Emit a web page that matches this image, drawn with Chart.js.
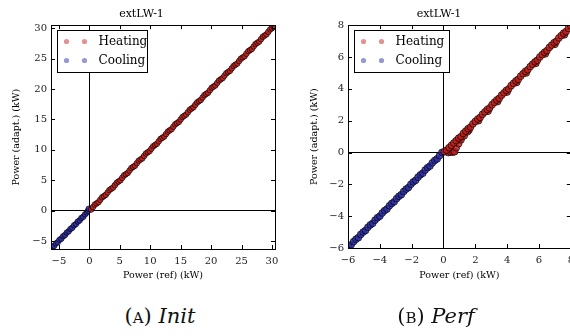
<!DOCTYPE html>
<html>
<head>
<meta charset="utf-8">
<script src="https://cdn.jsdelivr.net/npm/chart.js@4.4.1/dist/chart.umd.min.js"></script>
<style>
  html, body { margin: 0; padding: 0; background: #fff; }
  body { width: 570px; height: 336px; position: relative; overflow: hidden; }
  .panel { position: absolute; top: 0; width: 300px; height: 290px; }
  .caption {
    position: absolute; top: 304px; font-family: 'DejaVu Serif', serif; font-size: 21px;
    color: #111; white-space: nowrap; transform: translateX(-50%);
  }
  .caption .sc { font-variant: all-small-caps; }
</style>
</head>
<body>
<div class="panel" style="left:0"><canvas id="init-chart" width="300" height="290"></canvas></div>
<div class="panel" style="left:280px"><canvas id="perf-chart" width="300" height="290"></canvas></div>
<div class="caption" style="left:160px">(<span class="sc">A</span>) <i>Init</i></div>
<div class="caption" style="left:436px">(<span class="sc">B</span>) <i>Perf</i></div>
<script>
const TITLE = 'extLW-1';
const X_LABEL = 'Power (ref) (kW)';
const Y_LABEL = 'Power (adapt.) (kW)';

// (A) Init — [ref, adapted] pairs
const initTicks = [-5, 0, 5, 10, 15, 20, 25, 30];
const initHeating = [
  [0.3, 0.2], [0.6, 0.6], [0.9, 1.0], [1.2, 1.2], [1.5, 1.4], [1.8, 1.8], [2.1, 2.2], [2.4, 2.4], [2.7, 2.6], [3.0, 3.0],
  [3.3, 3.4], [3.6, 3.6], [3.9, 3.8], [4.2, 4.2], [4.5, 4.6], [4.8, 4.8], [5.1, 5.0], [5.4, 5.4], [5.7, 5.8], [6.0, 6.0],
  [6.3, 6.2], [6.6, 6.6], [6.9, 7.0], [7.2, 7.2], [7.5, 7.4], [7.8, 7.8], [8.1, 8.2], [8.4, 8.4], [8.7, 8.6], [9.0, 9.0],
  [9.3, 9.4], [9.6, 9.6], [9.9, 9.8], [10.2, 10.2], [10.5, 10.6], [10.8, 10.8], [11.1, 11.0], [11.4, 11.4], [11.7, 11.8], [12.0, 12.0],
  [12.3, 12.2], [12.6, 12.6], [12.9, 13.0], [13.2, 13.2], [13.5, 13.4], [13.8, 13.8], [14.1, 14.2], [14.4, 14.4], [14.7, 14.6], [15.0, 15.0],
  [15.3, 15.4], [15.6, 15.6], [15.9, 15.8], [16.2, 16.2], [16.5, 16.6], [16.8, 16.8], [17.1, 17.0], [17.4, 17.4], [17.7, 17.8], [18.0, 18.0],
  [18.3, 18.2], [18.6, 18.6], [18.9, 19.0], [19.2, 19.2], [19.5, 19.4], [19.8, 19.8], [20.1, 20.2], [20.4, 20.4], [20.7, 20.6], [21.0, 21.0],
  [21.3, 21.4], [21.6, 21.6], [21.9, 21.8], [22.2, 22.2], [22.5, 22.6], [22.8, 22.8], [23.1, 23.0], [23.4, 23.4], [23.7, 23.8], [24.0, 24.0],
  [24.3, 24.2], [24.6, 24.6], [24.9, 25.0], [25.2, 25.2], [25.5, 25.4], [25.8, 25.8], [26.1, 26.2], [26.4, 26.4], [26.7, 26.6], [27.0, 27.0],
  [27.3, 27.4], [27.6, 27.6], [27.9, 27.8], [28.2, 28.2], [28.5, 28.6], [28.8, 28.8], [29.1, 29.0], [29.4, 29.4], [29.7, 29.8], [30.0, 30.0],
  [30.3, 30.2],
];
const initCooling = [
  [-6.4, -6.3], [-6.1, -6.0], [-5.8, -5.8], [-5.5, -5.4], [-5.2, -5.2], [-4.9, -4.8], [-4.6, -4.6], [-4.3, -4.2],
  [-4.0, -4.0], [-3.7, -3.6], [-3.4, -3.4], [-3.1, -3.0], [-2.8, -2.8], [-2.5, -2.4], [-2.2, -2.2], [-1.9, -1.8],
  [-1.6, -1.6], [-1.3, -1.2], [-1.0, -1.0], [-0.7, -0.6], [-0.4, -0.3], [-0.2, 0.0], [-0.1, 0.3],
];

// (B) Perf — [ref, adapted] pairs
const perfTicks = [-6, -4, -2, 0, 2, 4, 6, 8];
const perfHeating = [
  [1.0, 0.8], [1.6, 1.4], [2.2, 2.0], [2.8, 2.6], [3.4, 3.2], [4.0, 3.8], [4.6, 4.4], [5.2, 5.0], [5.8, 5.6], [6.4, 6.2], [7.0, 6.8], [7.6, 7.4],
  [0.3, 0.0], [0.45, 0.02], [0.6, 0.03], [0.7, 0.05], [0.8, 0.3], [0.95, 0.55], [1.1, 0.8], [1.3, 1.05], [1.5, 1.3],
  [0.05, 0.05], [0.2, 0.15], [0.35, 0.3], [0.5, 0.45], [0.65, 0.6], [0.8, 0.75], [0.95, 0.9], [1.1, 1.0], [1.25, 1.2], [1.4, 1.35],
  [1.55, 1.5], [1.7, 1.6], [1.85, 1.8], [2.0, 1.95], [2.15, 2.1], [2.3, 2.2], [2.45, 2.4], [2.6, 2.55], [2.75, 2.7], [2.9, 2.8],
  [3.05, 3.0], [3.2, 3.15], [3.35, 3.3], [3.5, 3.4], [3.65, 3.6], [3.8, 3.75], [3.95, 3.9], [4.1, 4.0], [4.25, 4.2], [4.4, 4.35],
  [4.55, 4.5], [4.7, 4.6], [4.85, 4.8], [5.0, 4.95], [5.15, 5.1], [5.3, 5.2], [5.45, 5.4], [5.6, 5.55], [5.75, 5.7], [5.9, 5.8],
  [6.05, 6.0], [6.2, 6.15], [6.35, 6.3], [6.5, 6.4], [6.65, 6.6], [6.8, 6.75], [6.95, 6.9], [7.1, 7.0], [7.25, 7.2], [7.4, 7.35],
  [7.55, 7.5], [7.7, 7.6], [7.85, 7.8], [8.0, 7.95], [8.15, 8.1],
];
const perfCooling = [
  [-6.1, -6.05], [-5.95, -5.9], [-5.8, -5.8], [-5.65, -5.6], [-5.5, -5.45], [-5.35, -5.35], [-5.2, -5.15], [-5.05, -5.0],
  [-4.9, -4.9], [-4.75, -4.7], [-4.6, -4.55], [-4.45, -4.45], [-4.3, -4.25], [-4.15, -4.1], [-4.0, -4.0], [-3.85, -3.8],
  [-3.7, -3.65], [-3.55, -3.55], [-3.4, -3.35], [-3.25, -3.2], [-3.1, -3.1], [-2.95, -2.9], [-2.8, -2.75], [-2.65, -2.65],
  [-2.5, -2.45], [-2.35, -2.3], [-2.2, -2.2], [-2.05, -2.0], [-1.9, -1.85], [-1.75, -1.75], [-1.6, -1.55], [-1.45, -1.4],
  [-1.3, -1.3], [-1.15, -1.1], [-1.0, -0.95], [-0.85, -0.85], [-0.7, -0.65], [-0.55, -0.5], [-0.4, -0.4], [-0.25, -0.2],
  [-0.1, 0.0],
];

const HEAT = 'rgba(195, 30, 25, 0.8)';
const COOL = 'rgba(40, 40, 165, 0.8)';
const EDGE = 'rgba(0, 0, 0, 0.85)';

Chart.defaults.font.family = "'DejaVu Serif', serif";
Chart.defaults.color = '#000';

function points(pairs) {
  return pairs.map(([x, y]) => ({ x, y }));
}

function minus(value) {
  return String(value).replace('-', '\u2212');
}

// matplotlib-like frame, inward ticks on four sides, boxed legend
const framePlugin = {
  id: 'frame',
  afterDraw(chart) {
    const { ctx, chartArea: a, scales } = chart;
    ctx.save();
    ctx.strokeStyle = '#000';
    ctx.lineWidth = 1;
    ctx.beginPath();
    scales.x.ticks.forEach(t => {
      const px = Math.round(scales.x.getPixelForValue(t.value)) + 0.5;
      ctx.moveTo(px, a.bottom); ctx.lineTo(px, a.bottom - 4);
      ctx.moveTo(px, a.top); ctx.lineTo(px, a.top + 4);
    });
    scales.y.ticks.forEach(t => {
      const py = Math.round(scales.y.getPixelForValue(t.value)) + 0.5;
      ctx.moveTo(a.left, py); ctx.lineTo(a.left + 4, py);
      ctx.moveTo(a.right, py); ctx.lineTo(a.right - 4, py);
    });
    ctx.stroke();
    ctx.strokeRect(Math.round(a.left) + 0.5, Math.round(a.top) + 0.5,
      Math.round(a.right - a.left), Math.round(a.bottom - a.top));

    const opts = chart.options.plugins.frame;
    const bx = Math.round(a.left + 6) + 0.5;
    const by = Math.round(a.top + 5) + 0.5;
    ctx.fillStyle = '#fff';
    ctx.fillRect(bx, by, opts.boxWidth, 42);
    ctx.strokeRect(bx, by, opts.boxWidth, 42);
    ctx.font = "12px 'DejaVu Serif'";
    ctx.textBaseline = 'middle';
    chart.data.datasets.forEach((ds, i) => {
      const cy = by + 11 + i * 19;
      ctx.globalAlpha = 0.6;
      ctx.fillStyle = ds.backgroundColor;
      [9, 27].forEach(dx => {
        ctx.beginPath();
        ctx.arc(bx + dx, cy, 2.6, 0, Math.PI * 2);
        ctx.fill();
      });
      ctx.globalAlpha = 1;
      ctx.fillStyle = '#000';
      ctx.fillText(ds.label, bx + 41, cy);
    });
    ctx.restore();
  },
};

function makeChart(id, cfg) {
  const axis = (ticks, extra) => ({
    type: 'linear',
    min: cfg.min,
    max: cfg.max,
    afterBuildTicks: scale => { scale.ticks = ticks.map(value => ({ value })); },
    ticks: { callback: minus, font: { size: 10 }, padding: extra.tickPad, color: '#222' },
    grid: {
      drawTicks: false,
      lineWidth: 1,
      color: c => (c.tick && c.tick.value === 0 ? '#000' : 'rgba(0,0,0,0)'),
    },
    border: { display: false },
    title: { display: true, text: extra.label, font: { size: 9.5 }, padding: extra.titlePad },
    afterFit: extra.fit,
  });

  return new Chart(document.getElementById(id), {
    type: 'scatter',
    data: {
      datasets: [
        { label: 'Heating', data: points(cfg.heating), backgroundColor: HEAT, borderColor: EDGE,
          borderWidth: 0.8, pointRadius: cfg.radius, pointHoverRadius: cfg.radius },
        { label: 'Cooling', data: points(cfg.cooling), backgroundColor: COOL, borderColor: EDGE,
          borderWidth: 0.8, pointRadius: cfg.radius, pointHoverRadius: cfg.radius },
      ],
    },
    options: {
      responsive: false,
      animation: false,
      events: [],
      layout: { padding: { left: cfg.padLeft, right: cfg.padRight, top: 0, bottom: 0 } },
      plugins: {
        legend: { display: false },
        tooltip: { enabled: false },
        title: { display: true, text: TITLE, font: { size: 11, weight: 'normal' }, padding: { top: 8, bottom: 4 } },
        frame: { boxWidth: cfg.legendWidth },
      },
      scales: {
        x: axis(cfg.ticks, { label: X_LABEL, tickPad: 6, titlePad: 9, fit: s => { s.height = cfg.xHeight; } }),
        y: axis(cfg.ticks, { label: Y_LABEL, tickPad: 4, titlePad: 3, fit: s => { s.width = cfg.yWidth; } }),
      },
    },
    plugins: [framePlugin],
  });
}

makeChart('init-chart', {
  min: -6.3, max: 30.5, ticks: initTicks, heating: initHeating, cooling: initCooling,
  radius: 2.8, padLeft: 8, padRight: 25, yWidth: 43, xHeight: 41, legendWidth: 90,
});

makeChart('perf-chart', {
  min: -6, max: 8, ticks: perfTicks, heating: perfHeating, cooling: perfCooling,
  radius: 3.4, padLeft: 26, padRight: 8, yWidth: 42, xHeight: 42, legendWidth: 95,
});
</script>
</body>
</html>
